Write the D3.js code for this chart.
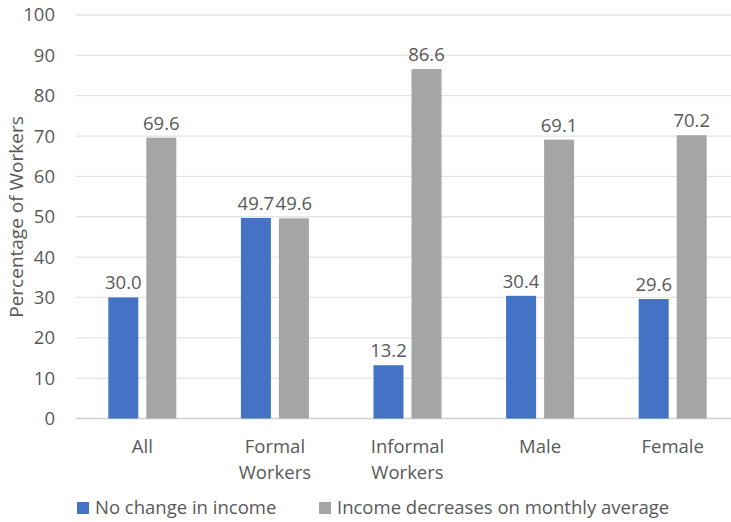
<!DOCTYPE html>
<html><head><meta charset="utf-8">
<script src="https://cdn.jsdelivr.net/npm/d3@7"></script>
<style>body{margin:0;background:#fff}svg{display:block}text{font-family:"Open Sans",sans-serif;fill:#595959}</style>
</head><body>
<svg id="c" width="731" height="522"></svg>
<script>
const categories = [["All"],["Formal","Workers"],["Informal","Workers"],["Male"],["Female"]];
const seriesNames = ["No change in income","Income decreases on monthly average"];
const noChange = [30.0, 49.7, 13.2, 30.4, 29.6];
const decreases = [69.6, 49.6, 86.6, 69.1, 70.2];
const yTicks = [0,10,20,30,40,50,60,70,80,90,100];
const colors = ["#4472C4","#A5A5A5"];

const svg = d3.select("#c");
const fs = 18.5;
const x = d3.scaleBand().domain(d3.range(categories.length)).range([76,739]).paddingInner(0).paddingOuter(0);
const y = d3.scaleLinear().domain([0,100]).range([418.5,15]);
const barW = 30, gap = 8;

// gridlines
svg.append("g").selectAll("line").data(yTicks).join("line")
  .attr("x1",76).attr("x2",731).attr("y1",d=>y(d)).attr("y2",d=>y(d))
  .attr("stroke",d=>d===0?"#D0D0D0":"#E3E3E3").attr("stroke-width",1.3);

// y tick labels
svg.append("g").selectAll("text").data(yTicks).join("text")
  .attr("x",55).attr("y",d=>y(d)).attr("dy","0.35em").attr("text-anchor","end")
  .attr("font-size",fs).text(d=>d);

// y title
svg.append("text").attr("transform","translate(23,217) rotate(-90)")
  .attr("text-anchor","middle").attr("font-size",19).text("Percentage of Workers");

const series = [noChange, decreases];
series.forEach((vals,si)=>{
  const g = svg.append("g");
  const bx = i => x(i)+x.bandwidth()/2 + (si===0 ? -(gap/2+barW) : gap/2);
  g.selectAll("rect").data(vals).join("rect")
    .attr("x",(d,i)=>bx(i)).attr("width",barW)
    .attr("y",d=>y(d)).attr("height",d=>y(0)-y(d)).attr("fill",colors[si]);
  g.selectAll("text").data(vals).join("text")
    .attr("x",(d,i)=>bx(i)+barW/2).attr("y",d=>y(d)-8)
    .attr("text-anchor","middle").attr("font-size",fs).text(d=>d.toFixed(1));
});

// category labels
const cg = svg.append("g");
categories.forEach((lines,i)=>{
  lines.forEach((t,li)=>{
    cg.append("text").attr("x",x(i)+x.bandwidth()/2).attr("y",453+li*26)
      .attr("text-anchor","middle").attr("font-size",fs).text(t);
  });
});

// legend
const legX = [77,319];
seriesNames.forEach((n,i)=>{
  svg.append("rect").attr("x",legX[i]).attr("y",502).attr("width",12).attr("height",12).attr("fill",colors[i]);
  svg.append("text").attr("x",legX[i]+18).attr("y",514).attr("font-size",fs).text(n);
});
</script>
</body></html>
